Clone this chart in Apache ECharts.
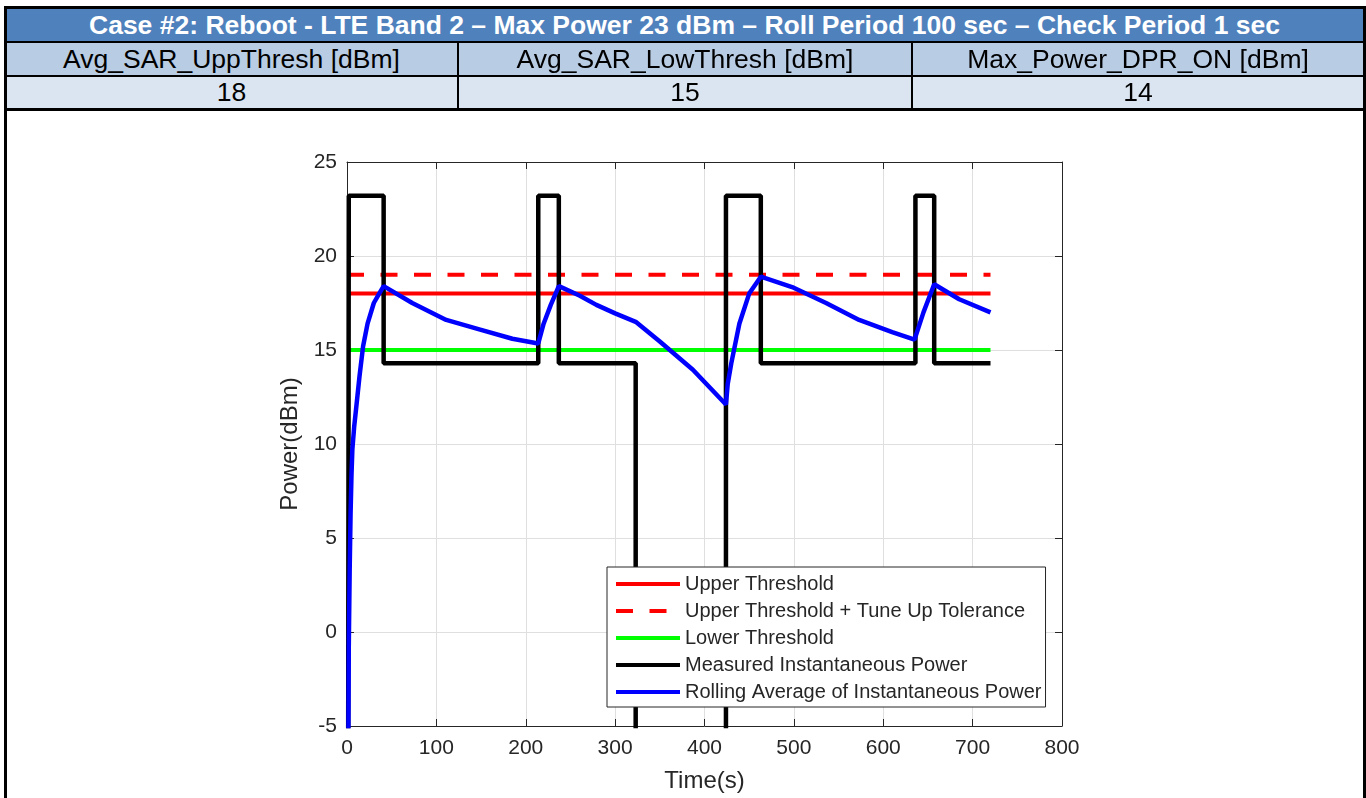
<!DOCTYPE html>
<html>
<head>
<meta charset="utf-8">
<script src="https://cdn.jsdelivr.net/npm/echarts@6/dist/echarts.min.js"></script>
<style>
  html, body { margin: 0; padding: 0; background: #fff; }
  body { width: 1366px; height: 798px; position: relative; overflow: hidden;
         font-family: "Liberation Sans", Arial, Helvetica, sans-serif; }
  #chart { position: absolute; left: 0; top: 0; width: 1366px; height: 798px; }
  .blk { position: absolute; background: #000; z-index: 2; }
  .cell { position: absolute; display: flex; align-items: center; justify-content: center;
          color: #000; font-size: 26.5px; z-index: 1; white-space: nowrap; }
  .head { background: #4f81bd; color: #fff; font-weight: bold; font-size: 26.5px; }
  .r2 { background: #b8cce4; }
  .r3 { background: #dbe5f1; }
</style>
</head>
<body>
<div id="chart"></div>

<!-- header table -->
<div class="cell head" style="left:6px;top:9px;width:1357px;height:32px;">Case #2: Reboot - LTE Band 2 – Max Power 23 dBm – Roll Period 100 sec – Check Period 1 sec</div>
<div class="cell r2" style="left:6px;top:43px;width:451px;height:32px;">Avg_SAR_UppThresh [dBm]</div>
<div class="cell r2" style="left:459px;top:43px;width:452px;height:32px;">Avg_SAR_LowThresh [dBm]</div>
<div class="cell r2" style="left:913px;top:43px;width:450px;height:32px;">Max_Power_DPR_ON [dBm]</div>
<div class="cell r3" style="left:6px;top:77px;width:451px;height:31px;">18</div>
<div class="cell r3" style="left:459px;top:77px;width:452px;height:31px;">15</div>
<div class="cell r3" style="left:913px;top:77px;width:450px;height:31px;">14</div>
<div class="blk" style="left:4px;top:6px;width:1362px;height:3px;"></div>
<div class="blk" style="left:4px;top:41px;width:1362px;height:2px;"></div>
<div class="blk" style="left:4px;top:75px;width:1362px;height:2px;"></div>
<div class="blk" style="left:4px;top:108px;width:1362px;height:3px;"></div>
<div class="blk" style="left:4px;top:6px;width:3px;height:792px;"></div>
<div class="blk" style="left:1363px;top:6px;width:3px;height:792px;"></div>
<div class="blk" style="left:457px;top:41px;width:2px;height:70px;"></div>
<div class="blk" style="left:911px;top:41px;width:2px;height:70px;"></div>

<script>
// thresholds [dBm]
const upperThresh = 18;
const upperTol = 19;
const lowerThresh = 15;
const threshSpan = [0, 720];

// measured instantaneous power (step trace, -60 = transmitter off, below axis)
const measTime  = [0, 2, 2, 41, 41, 214, 214, 237, 237, 323, 323, 424, 424, 463, 463, 636, 636, 657, 657, 720];
const measPower = [-60, -60, 23.2, 23.2, 14.3, 14.3, 23.2, 23.2, 14.3, 14.3, -60, -60, 23.2, 23.2, 14.3, 14.3, 23.2, 23.2, 14.3, 14.3];

// rolling average of instantaneous power
const avgTime  = [1, 2, 3, 4, 5, 6, 8, 10, 14, 18, 23, 30, 36, 41, 73, 111, 148, 185, 214, 220, 228, 237, 260, 279, 300, 323, 350, 387, 424, 426, 430, 439, 450, 463, 498, 536, 573, 610, 635, 645, 657, 685, 720];
const avgPower = [-12, -0.8, 3.3, 6.3, 8.3, 9.7, 10.9, 11.8, 13.6, 15.2, 16.4, 17.5, 18.0, 18.4, 17.5, 16.6, 16.1, 15.6, 15.35, 16.4, 17.4, 18.4, 17.9, 17.4, 16.95, 16.5, 15.45, 13.95, 12.1, 13.2, 14.3, 16.4, 18.0, 18.9, 18.35, 17.5, 16.6, 15.95, 15.55, 17.0, 18.5, 17.7, 17.0];

const legendNames = [
  'Upper Threshold',
  'Upper Threshold + Tune Up Tolerance',
  'Lower Threshold',
  'Measured Instantaneous Power',
  'Rolling Average of Instantaneous Power'
];

const pairs = (xs, ys) => xs.map((x, i) => [x, ys[i]]);
const flat = v => threshSpan.map(t => [t, v]);

const myChart = echarts.init(document.getElementById('chart'), null, { renderer: 'canvas' });
const txt = '#262626';
const font = '"Liberation Sans", Arial, Helvetica, sans-serif';

const baseX = {
  type: 'value', min: 0, max: 800, interval: 100,
  axisLine: { show: true, onZero: false, lineStyle: { color: txt, width: 1 } },
  axisTick: { show: true, inside: true, length: 7, lineStyle: { color: txt } }
};
const baseY = {
  type: 'value', min: -5, max: 25, interval: 5,
  axisLine: { show: true, onZero: false, lineStyle: { color: txt, width: 1 } },
  axisTick: { show: true, inside: true, length: 7, lineStyle: { color: txt } }
};

const line = (name, data, color, width, type) => ({
  name, type: 'line', data,
  xAxisIndex: 0, yAxisIndex: 0,
  symbol: 'none', showSymbol: false,
  itemStyle: { color },
  lineStyle: { color, width, type: type || 'solid' },
  animation: false
});

const option = {
  animation: false,
  textStyle: { fontFamily: font },
  grid: { left: 347, top: 162, width: 715, height: 564, containLabel: false },
  xAxis: [
    Object.assign({}, baseX, {
      position: 'bottom',
      name: 'Time(s)', nameLocation: 'middle', nameGap: 43,
      nameTextStyle: { fontSize: 24, color: txt, fontFamily: font },
      axisLabel: { fontSize: 21, color: txt, margin: 12, fontFamily: font },
      splitLine: { show: true, lineStyle: { color: '#dfdfdf', width: 1 } }
    }),
    Object.assign({}, baseX, {
      position: 'top',
      axisLabel: { show: false },
      splitLine: { show: false }
    })
  ],
  yAxis: [
    Object.assign({}, baseY, {
      position: 'left',
      name: 'Power(dBm)', nameLocation: 'middle', nameGap: 43, nameRotate: 90,
      nameTextStyle: { fontSize: 24, color: txt, fontFamily: font },
      axisLabel: { fontSize: 21, color: txt, margin: 10, fontFamily: font },
      splitLine: { show: true, lineStyle: { color: '#dfdfdf', width: 1 } }
    }),
    Object.assign({}, baseY, {
      position: 'right',
      axisLabel: { show: false },
      splitLine: { show: false }
    })
  ],
  legend: {
    data: legendNames,
    orient: 'vertical',
    left: 607, top: 567,
    padding: [7, 4, 5, 7],
    itemWidth: 64, itemHeight: 20, itemGap: 7,
    backgroundColor: '#fff',
    borderColor: txt, borderWidth: 1, borderRadius: 0,
    itemStyle: { opacity: 0 },
    lineStyle: { width: 4 },
    textStyle: { fontSize: 20, color: txt, lineHeight: 20, fontFamily: font },
    selectedMode: false
  },
  series: [
    line(legendNames[0], flat(upperThresh), '#ff0000', 4),
    line(legendNames[1], flat(upperTol), '#ff0000', 4, [17, 16.5]),
    line(legendNames[2], flat(lowerThresh), '#00ff00', 4),
    line(legendNames[3], pairs(measTime, measPower), '#000000', 4.5),
    line(legendNames[4], pairs(avgTime, avgPower), '#0000ff', 4.5)
  ]
};
myChart.setOption(option);
</script>
</body>
</html>
